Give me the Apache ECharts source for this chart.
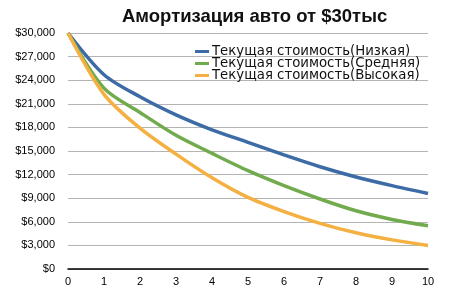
<!DOCTYPE html>
<html><head><meta charset="utf-8">
<script src="https://cdn.jsdelivr.net/npm/echarts@6/dist/echarts.min.js"></script>
<style>html,body{margin:0;padding:0;background:#fff}#c{width:461px;height:297px}</style>
</head><body><div id="c"></div>
<script>
var years = [0,1,2,3,4,5,6,7,8,9,10];
var lowValues = [30000,24700,21900,19600,17700,16100,14500,13000,11700,10600,9600];
var midValues = [30000,23000,19900,17000,14700,12500,10600,8900,7400,6300,5500];
var highValues = [30000,22200,17900,14600,11600,9100,7300,5800,4600,3700,3000];
var seriesNames = ['Текущая стоимость(Низкая)','Текущая стоимость(Средняя)','Текущая стоимость(Высокая)'];
var titleText = 'Амортизация авто от $30тыс';

function pairs(v){ return years.map(function(x,i){ return [x, v[i]]; }); }
function money(v){ return '$' + String(v).replace(/\B(?=(\d{3})+(?!\d))/g, ','); }

var colors = ['#3d6ba6','#72aa4e','#f4b040'];
var chart = echarts.init(document.getElementById('c'));
chart.setOption({
  animation:false,
  title:{text:titleText,left:122,top:7,padding:0,textStyle:{fontFamily:'Liberation Sans',fontSize:18.5,fontWeight:'bold',color:'#111'}},
  grid:{left:68,right:33,top:33,bottom:28},
  legend:{top:45,left:195,padding:0,orient:'vertical',itemGap:-1,itemWidth:14,itemHeight:3,icon:'rect',
    textStyle:{fontFamily:'DejaVu Sans',fontSize:13.3,color:'#111',padding:[0,0,0,-2]},
    data:seriesNames},
  xAxis:{type:'value',min:0,max:10,interval:1,splitLine:{show:false},
    axisLine:{show:true,lineStyle:{color:'#000',width:1.5}},axisTick:{show:false},
    axisLabel:{fontFamily:'Liberation Sans',fontSize:11,color:'#000',margin:7}},
  yAxis:{type:'value',min:0,max:30000,interval:3000,axisLine:{show:false},axisTick:{show:false},
    splitLine:{lineStyle:{color:'#b4b4b4',width:1}},
    axisLabel:{fontFamily:'Liberation Sans',fontSize:11,color:'#000',margin:13,formatter:money}},
  series:[
    {name:seriesNames[0],type:'line',data:pairs(lowValues),smooth:0.3,showSymbol:false,lineStyle:{width:3.5,color:colors[0]},itemStyle:{color:colors[0]}},
    {name:seriesNames[1],type:'line',data:pairs(midValues),smooth:0.3,showSymbol:false,lineStyle:{width:3.5,color:colors[1]},itemStyle:{color:colors[1]}},
    {name:seriesNames[2],type:'line',data:pairs(highValues),smooth:0.3,showSymbol:false,lineStyle:{width:3.5,color:colors[2]},itemStyle:{color:colors[2]}}
  ]
});
</script></body></html>
